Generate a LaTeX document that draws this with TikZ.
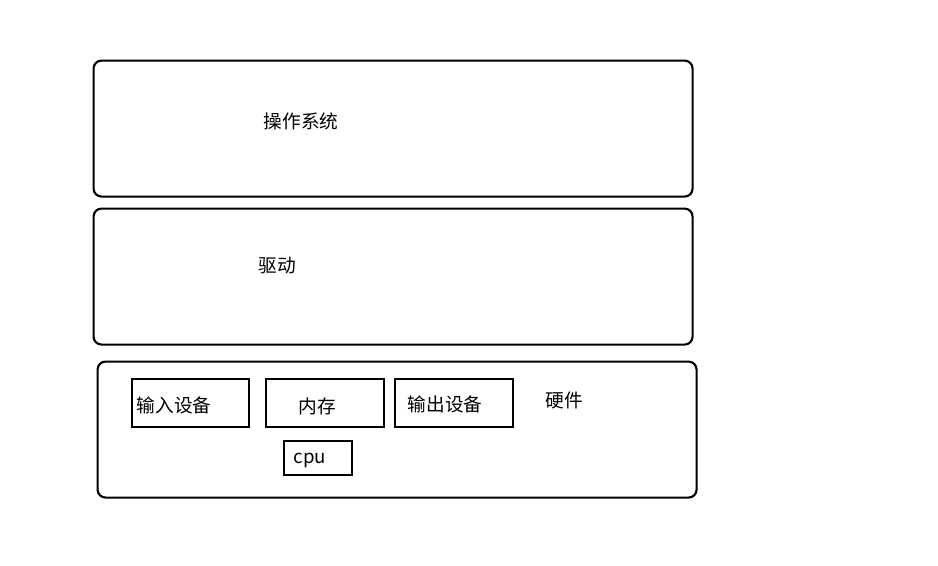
\documentclass[tikz,border=0pt]{standalone}
\usepackage{fontspec}
\setmainfont{Noto Sans CJK SC}
\begin{document}
\begin{tikzpicture}[x=0.75pt,y=-0.75pt,
  layer/.style={draw,line width=1.6pt,rounded corners=6pt,inner sep=0pt,anchor=north west},
  part/.style={draw,line width=1.6pt,inner sep=0pt,anchor=north west},
  lbl/.style={font=\fontsize{14pt}{16pt}\selectfont,inner sep=0pt}]
\useasboundingbox (0,0) rectangle (938,565);
\node[layer,minimum width=599*0.75pt,minimum height=136*0.75pt] (os) at (92.5,59.5) {};
\node[layer,minimum width=599*0.75pt,minimum height=136*0.75pt] (drv) at (92.5,207.5) {};
\node[layer,minimum width=599*0.75pt,minimum height=136*0.75pt] (hw) at (96.5,360.5) {};
\node[part,minimum width=117*0.75pt,minimum height=48*0.75pt] (in) at (130.5,377.5) {};
\node[part,minimum width=118*0.75pt,minimum height=48*0.75pt] (mem) at (264.5,377.5) {};
\node[part,minimum width=118*0.75pt,minimum height=48*0.75pt] (out) at (393.5,377.5) {};
\node[part,minimum width=68*0.75pt,minimum height=34*0.75pt] (cpu) at (282.5,439.5) {};
\node[lbl] (tos) at (301,121) {操作系统};
\node[lbl] (tdrv) at (277,266) {驱动};
\node[lbl] (thw) at (564,400) {硬件};
\node[lbl] (tin) at (174,405) {输入设备};
\node[lbl] (tmem) at (317,406) {内存};
\node[lbl] (tout) at (445,404) {输出设备};
\node[lbl,anchor=base] (tcpu) at (310,463) {cpu};
\end{tikzpicture}
\end{document}
